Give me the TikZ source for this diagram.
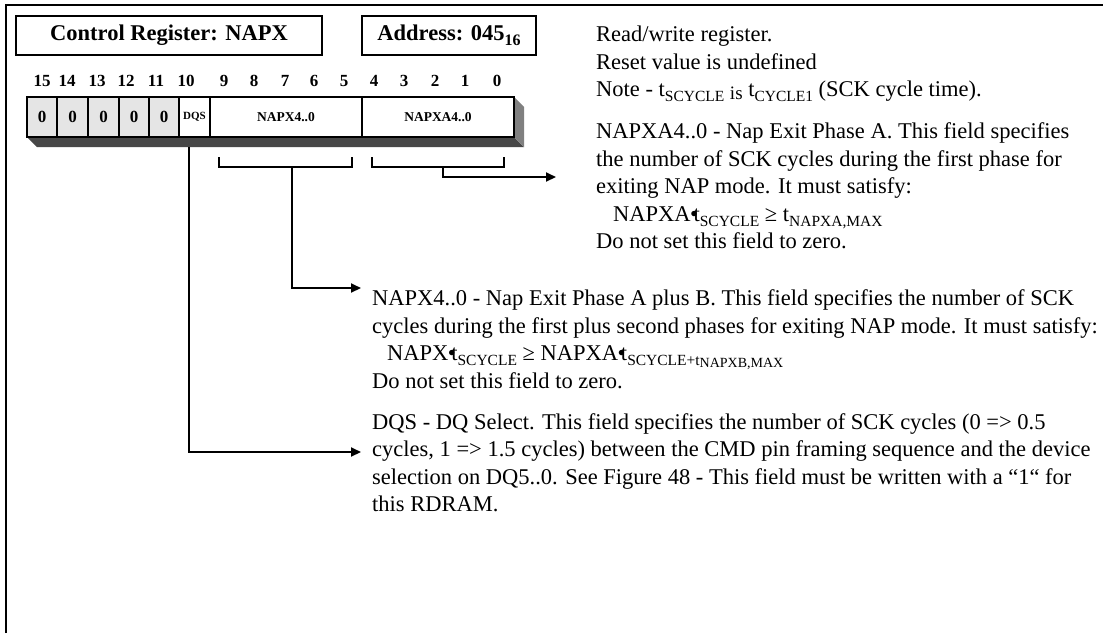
\documentclass[tikz,border=0pt]{standalone}
\usepackage{fontspec}
\setmainfont{Liberation Serif}
\usetikzlibrary{arrows.meta}
\newcommand\mysub[1]{\raisebox{-5pt}{\fontsize{15.5}{15.5}\selectfont #1}}
\newcommand\mysubb[1]{\raisebox{-7pt}{\fontsize{14}{14}\selectfont #1}}
\newcommand\mybul{\kern-0.5pt•\kern-4.5pt}
\begin{document}
\begin{tikzpicture}[x=1pt,y=-1pt,
  body/.style={anchor=base west, inner sep=0pt, font=\fontsize{22.5}{27.5}\selectfont},
  bitnum/.style={inner sep=0pt, font=\bfseries\fontsize{17}{17}\selectfont},
  cell/.style={draw, line width=1.4pt, minimum height=40pt, inner sep=0pt},
  zcell/.style={cell, fill=black!10, font=\bfseries\fontsize{17}{17}\selectfont},
  fcell/.style={cell, fill=white, font=\bfseries\fontsize{13.5}{13.5}\selectfont},
  hbox/.style={draw, line width=1.5pt, minimum height=39pt, inner sep=0pt, font=\bfseries\fontsize{22.5}{22.5}\selectfont},
  conn/.style={line width=2pt},
  arr/.style={conn, -{Triangle[length=10pt,width=9pt]}}
]
\useasboundingbox (0,0) rectangle (1103,633);
\fill[white] (0,0) rectangle (1103,633);
% frame
\draw[line width=2pt] (6,633) -- (6,5) -- (1103,5);
% header boxes
\node[hbox, minimum width=306pt] (title) at (169,35.5) {Control Register: NAPX};
\node[hbox, minimum width=174pt] (addr) at (449,35.5) {Address: 045\raisebox{-5pt}{\fontsize{16}{16}\selectfont 16}};
% bit numbers
\foreach \b/\x in {15/42,14/67,13/97,12/126,11/156,10/186,9/224,8/254,7/285,6/314,5/344,4/374,3/404,2/435,1/465,0/497}
  \node[bitnum] (b\b) at (\x,81) {\b};
% shadow
\fill[black!72] (27,137) -- (514,137) -- (524,147) -- (37,147) -- cycle;
\fill[black!50] (514,97) -- (524,107) -- (524,147) -- (514,137) -- cycle;
% cells
\node[zcell, minimum width=30pt] (c15) at (42,117) {0};
\node[zcell, minimum width=31pt] (c14) at (72.5,117) {0};
\node[zcell, minimum width=31pt] (c13) at (103.5,117) {0};
\node[zcell, minimum width=30pt] (c12) at (134,117) {0};
\node[zcell, minimum width=30pt] (c11) at (164,117) {0};
\node[fcell, minimum width=31pt, font=\bfseries\fontsize{11}{11}\selectfont] (dqs) at (194.5,117) {DQS};
\node[fcell, minimum width=152pt] (napx) at (286,117) {NAPX4..0};
\node[fcell, minimum width=152pt] (napxa) at (438,117) {NAPXA4..0};
\draw[line width=2pt] (27,97) rectangle (514,137);
% brackets
\draw[conn] (219,157) -- (219,167) -- (352,167) -- (352,157);
\draw[conn] (372,157) -- (372,167) -- (504,167) -- (504,157);
\coordinate (napxStem) at (292,167);
\coordinate (napxaStem) at (443,167);
\coordinate (dqsStem) at (189,147);
\coordinate (napxaEnd) at (556,177);
\coordinate (napxEnd) at (361,288);
\coordinate (dqsEnd) at (361,452);
\draw[arr] (napxaStem) |- (napxaEnd);
\draw[arr] (napxStem) |- (napxEnd);
\draw[arr] (dqsStem) |- (dqsEnd);
% text block 1
\node[body] (t1) at (596,41.5) {Read/write register.};
\node[body] (t2) at (596,69) {Reset value is undefined};
\node[body] (t3) at (596,96.5) {Note - t\mysub{SCYCLE} \raisebox{-2.5pt}{\fontsize{19}{19}\selectfont is} t\mysub{CYCLE1} (SCK cycle time).};
\node[body] (a1) at (596,138.5) {NAPXA4..0 - Nap Exit Phase A. This field specifies};
\node[body] (a2) at (596,166) {the number of SCK cycles during the first phase for};
\node[body] (a3) at (596,193.5) {exiting NAP mode. It must satisfy:};
\node[body] (a4) at (613,221) {NAPXA\mybul t\mysub{SCYCLE} ≥ t\mysub{NAPXA,MAX}};
\node[body] (a5) at (596,248.5) {Do not set this field to zero.};
% text block 2
\node[body] (p1) at (372,305.5) {NAPX4..0 - Nap Exit Phase A plus B. This field specifies the number of SCK};
\node[body] (p2) at (372,333) {cycles during the first plus second phases for exiting NAP mode. It must satisfy:};
\node[body] (p3) at (387,360.5) {NAPX\mybul t\mysub{SCYCLE} ≥ NAPXA\mybul t\mysub{SCYCLE+t}\mysubb{NAPXB,MAX}};
\node[body] (p4) at (372,388) {Do not set this field to zero.};
% text block 3
\node[body] (d1) at (372,429) {DQS - DQ Select. This field specifies the number of SCK cycles (0 => 0.5};
\node[body] (d2) at (372,456.5) {cycles, 1 => 1.5 cycles) between the CMD pin framing sequence and the device};
\node[body] (d3) at (372,484) {selection on DQ5..0. See Figure 48 - This field must be written with a “1“ for};
\node[body] (d4) at (372,511.5) {this RDRAM.};
\end{tikzpicture}
\end{document}
